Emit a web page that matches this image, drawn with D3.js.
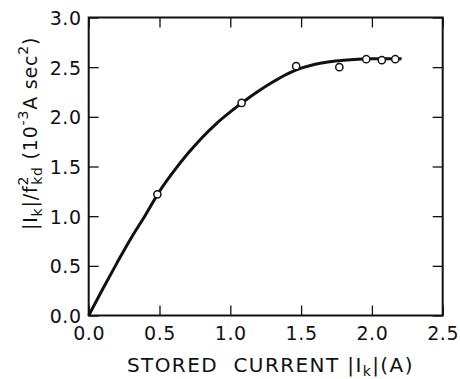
<!DOCTYPE html>
<html>
<head>
<meta charset="utf-8">
<script src="https://cdn.jsdelivr.net/npm/d3@7"></script>
<style>
  html, body { margin: 0; padding: 0; background: #fff; }
  text { font-family: "DejaVu Sans", "Liberation Sans", sans-serif; fill: #111; white-space: pre; }
</style>
</head>
<body>
<svg id="chart" width="460" height="379"></svg>
<script>
// measured points
const pointX = [0.485, 1.08, 1.465, 1.77, 1.96, 2.07, 2.165];
const pointY = [1.22, 2.14, 2.51, 2.50, 2.58, 2.57, 2.58];

// fitted curve
const curveX = [0, 0.1, 0.2, 0.3, 0.4, 0.5, 0.6, 0.7, 0.8, 0.9, 1.0, 1.1, 1.2, 1.3, 1.4, 1.5, 1.6, 1.7, 1.8, 1.9, 2.0, 2.1, 2.21];
const curveY = [0, 0.27, 0.53, 0.78, 1.01, 1.25, 1.45, 1.63, 1.79, 1.93, 2.05, 2.16, 2.26, 2.35, 2.43, 2.49, 2.53, 2.555, 2.57, 2.58, 2.585, 2.585, 2.585];

const xTicks = [0, 0.5, 1.0, 1.5, 2.0, 2.5];
const yTicks = [0, 0.5, 1.0, 1.5, 2.0, 2.5, 3.0];

const svg = d3.select("#chart");
const margin = { left: 88.7, top: 17.5, right: 17.3, bottom: 63.5 };
const width = 460 - margin.left - margin.right;
const height = 379 - margin.top - margin.bottom;

const x = d3.scaleLinear().domain([0, 2.5]).range([0, width]);
const y = d3.scaleLinear().domain([0, 3.0]).range([height, 0]);

const g = svg.append("g")
    .attr("transform", "translate(" + margin.left + "," + margin.top + ")");

// inward ticks on all four sides
const tickLen = 10;
const fmt = d3.format(".1f");

const bottomAxis = g.append("g")
    .attr("transform", "translate(0," + height + ")")
    .call(d3.axisBottom(x).tickValues(xTicks).tickSizeInner(-tickLen).tickSizeOuter(0).tickPadding(11).tickFormat(fmt));
const leftAxis = g.append("g")
    .call(d3.axisLeft(y).tickValues(yTicks).tickSizeInner(-tickLen).tickSizeOuter(0).tickPadding(7).tickFormat(fmt));
g.append("g")
    .call(d3.axisTop(x).tickValues(xTicks).tickSizeInner(-tickLen).tickSizeOuter(0).tickFormat(""));
g.append("g")
    .attr("transform", "translate(" + width + ",0)")
    .call(d3.axisRight(y).tickValues(yTicks).tickSizeInner(-tickLen).tickSizeOuter(0).tickFormat(""));

g.selectAll(".domain").remove();
g.selectAll(".tick line").attr("stroke", "#111").attr("stroke-width", 1.3);
g.selectAll(".tick text").attr("font-size", 19).attr("fill", "#111").attr("letter-spacing", 0.6)
    .style("font-family", "'DejaVu Sans', 'Liberation Sans', sans-serif");
leftAxis.selectAll(".tick text").attr("dy", "0.36em");

// frame
g.append("rect")
    .attr("width", width)
    .attr("height", height)
    .attr("fill", "none")
    .attr("stroke", "#111")
    .attr("stroke-width", 2);

// curve
const line = d3.line()
    .x((d, i) => x(curveX[i]))
    .y((d, i) => y(curveY[i]))
    .curve(d3.curveMonotoneX);

g.append("path")
    .datum(curveX)
    .attr("d", line)
    .attr("fill", "none")
    .attr("stroke", "#111")
    .attr("stroke-width", 3);

// points
g.selectAll(".pt")
    .data(pointX)
    .enter().append("circle")
    .attr("class", "pt")
    .attr("cx", (d) => x(d))
    .attr("cy", (d, i) => y(pointY[i]))
    .attr("r", 3.6)
    .attr("fill", "#fff")
    .attr("stroke", "#111")
    .attr("stroke-width", 1.5);

// x axis title
const xt = svg.append("text")
    .attr("x", 127)
    .attr("y", 372)
    .attr("font-size", 20)
    .attr("letter-spacing", 1.4);
xt.append("tspan").text("STORED  CURRENT |I");
xt.append("tspan").attr("font-size", 14).attr("dy", 4).text("k");
xt.append("tspan").attr("dy", -4).text("|(A)");

// y axis title
const yt = svg.append("text")
    .attr("transform", "translate(37,230) rotate(-90)")
    .attr("font-size", 19)
    .attr("letter-spacing", 0.8);
yt.append("tspan").text("|I");
yt.append("tspan").attr("font-size", 14).attr("dy", 5).text("k");
yt.append("tspan").attr("dy", -5).text("|/f");
yt.append("tspan").attr("font-size", 14).attr("dy", -9).text("2");
yt.append("tspan").attr("font-size", 14).attr("dx", -9).attr("dy", 14).text("kd");
yt.append("tspan").attr("dy", -5).text(" (10");
yt.append("tspan").attr("font-size", 14).attr("dy", -9).text("-3");
yt.append("tspan").attr("dy", 9).text("A sec");
yt.append("tspan").attr("font-size", 14).attr("dy", -9).text("2");
yt.append("tspan").attr("dy", 9).text(")");
</script>
</body>
</html>
